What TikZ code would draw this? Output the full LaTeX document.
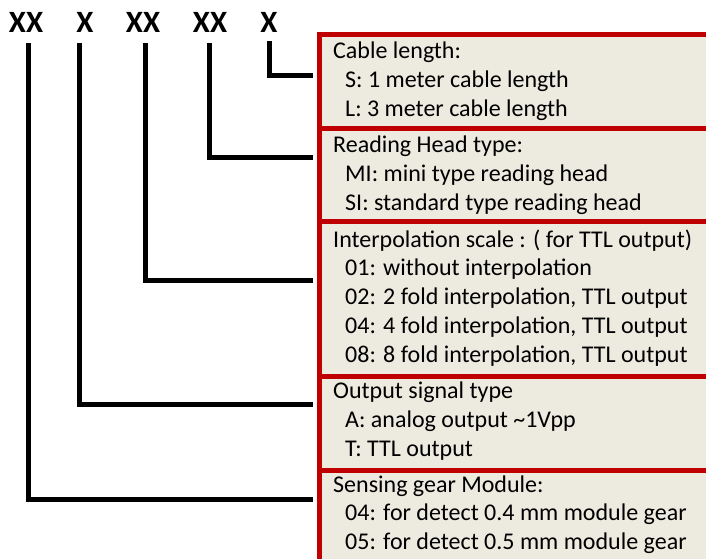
\documentclass[tikz,border=0pt]{standalone}
\usepackage{fontspec}
\setmainfont{Carlito}
\definecolor{boxred}{HTML}{C00000}
\definecolor{boxfill}{HTML}{EDEAE0}
\begin{document}
\begin{tikzpicture}[x=1pt,y=-1pt,
  conn/.style={line width=5pt, line join=miter},
  box/.style={draw=boxred, fill=boxfill, line width=5pt, anchor=north west, minimum width=420pt, inner sep=0pt},
  lab/.style={font=\fontsize{31}{31}\selectfont\bfseries, anchor=base, inner sep=0pt},
  txt/.style={font=\fontsize{24}{28}\selectfont, anchor=base west, inner sep=0pt}]
\useasboundingbox (0,0) rectangle (706,558);
\clip (0,0) rectangle (706,558);
% code labels
\node[lab] (l1) at (26,32) {XX};
\node[lab] (l2) at (85,32) {X};
\node[lab] (l3) at (143,32) {XX};
\node[lab] (l4) at (210,32) {XX};
\node[lab] (l5) at (269,32) {X};
% boxes
\node[box, minimum height=94pt]  (b1) at (317,32) {};
\node[box, minimum height=93pt]  (b2) at (317,126) {};
\node[box, minimum height=155pt] (b3) at (317,219) {};
\node[box, minimum height=94pt]  (b4) at (317,374) {};
\node[box, minimum height=110pt] (b5) at (317,468) {};
% connector points
\coordinate (s1) at (28.5,43);
\coordinate (s2) at (79.5,43);
\coordinate (s3) at (145.5,43);
\coordinate (s4) at (209.5,43);
\coordinate (s5) at (269.5,41);
\coordinate (e5) at (313,75);
\coordinate (e4) at (313,157);
\coordinate (e3) at (313,280);
\coordinate (e2) at (313,404);
\coordinate (e1) at (313,499);
\draw[conn] (s5) |- (e5);
\draw[conn] (s4) |- (e4);
\draw[conn] (s3) |- (e3);
\draw[conn] (s2) |- (e2);
\draw[conn] (s1) |- (e1);
% texts
\node[txt] (t11) at (333,58) {Cable length:};
\node[txt] (t12) at (345,87) {S: 1 meter cable length};
\node[txt] (t13) at (345,116) {L: 3 meter cable length};
\node[txt] (t21) at (333,152) {Reading Head type:};
\node[txt] (t22) at (345,181) {MI: mini type reading head};
\node[txt] (t23) at (345,210) {SI: standard type reading head};
\node[txt] (t31) at (333,247) {Interpolation scale : ( for TTL output)};
\node[txt] (t32) at (345,275) {01: without interpolation};
\node[txt] (t33) at (345,304) {02: 2 fold interpolation, TTL output};
\node[txt] (t34) at (345,333) {04: 4 fold interpolation, TTL output};
\node[txt] (t35) at (345,362) {08: 8 fold interpolation, TTL output};
\node[txt] (t41) at (333,398) {Output signal type};
\node[txt] (t42) at (345,427) {A: analog output \textasciitilde1Vpp};
\node[txt] (t43) at (345,456) {T: TTL output};
\node[txt] (t51) at (333,492) {Sensing gear Module:};
\node[txt] (t52) at (345,520) {04: for detect 0.4 mm module gear};
\node[txt] (t53) at (345,549) {05: for detect 0.5 mm module gear};
\end{tikzpicture}
\end{document}
